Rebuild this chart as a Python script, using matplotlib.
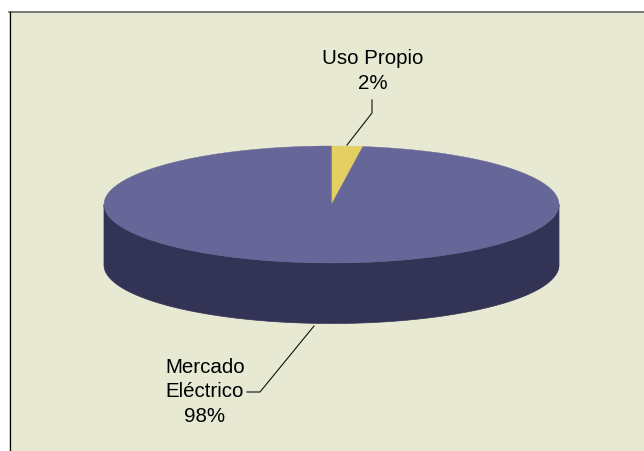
import numpy as np
from matplotlib import pyplot as plt
from matplotlib.patches import Polygon, Rectangle

plt.rcParams['font.family'] = ['Liberation Sans', 'DejaVu Sans']

# shares of the pie, clockwise from 12 o'clock (read from the wedge, labels are rounded)
labels = ["Uso Propio\n2%", "Mercado\nEléctrico\n98%"]
shares = [2.2, 97.8]
top_colors = ['#E3CF62', '#666699']
side_color = '#333355'
bg_color = '#E8E9D3'

# pie geometry in pixels
cx, cy = 331.5, 205.5
rx, ry = 227.5, 58.5
depth = 60.5


def ellipse_arc(start, end):
    # angles in degrees clockwise from the top
    t = np.radians(np.linspace(start, end, 240))
    return np.column_stack([cx + rx * np.sin(t), cy - ry * np.cos(t)])


fig = plt.figure(figsize=(6.44, 4.52), dpi=100)
ax = fig.add_axes([0, 0, 1, 1])
ax.set_xlim(0, 644)
ax.set_ylim(452, 0)
ax.axis('off')

# chart area, runs off the right and the bottom of the picture
ax.add_patch(Rectangle((9.5, 13), 640, 445, facecolor=bg_color, edgecolor='none'))
ax.plot([9.5, 644], [13, 13], color='#555555', lw=1.1)
ax.plot([9.8, 9.8], [12.5, 452], color='#000000', lw=0.9)

# side wall, front half of the rim pushed down by depth
front = ellipse_arc(90, 270)
wall = np.vstack([front, (front + [0, depth])[::-1]])
ax.add_patch(Polygon(wall, closed=True, facecolor=side_color, edgecolor=side_color, lw=0.5))

# top slices
angle = 0
for share, color in zip(shares, top_colors):
    sweep = share / sum(shares) * 360
    arc = ellipse_arc(angle, angle + sweep)
    ax.add_patch(Polygon(np.vstack([[cx, cy], arc]), closed=True, facecolor=color, edgecolor=color, lw=0.3))
    angle += sweep

# leader lines
ax.plot([372, 372, 347], [101, 114, 146], color='#111111', lw=0.8)
ax.plot([247, 260, 314], [393, 393, 327], color='#111111', lw=0.8)

# labels
ax.text(372.5, 71, labels[0], ha='center', va='center', fontsize=14.8, color='#000000', linespacing=1.39)
ax.text(205, 392, labels[1], ha='center', va='center', fontsize=14.8, color='#000000', linespacing=1.39)

plt.savefig('out.png', dpi=100)
